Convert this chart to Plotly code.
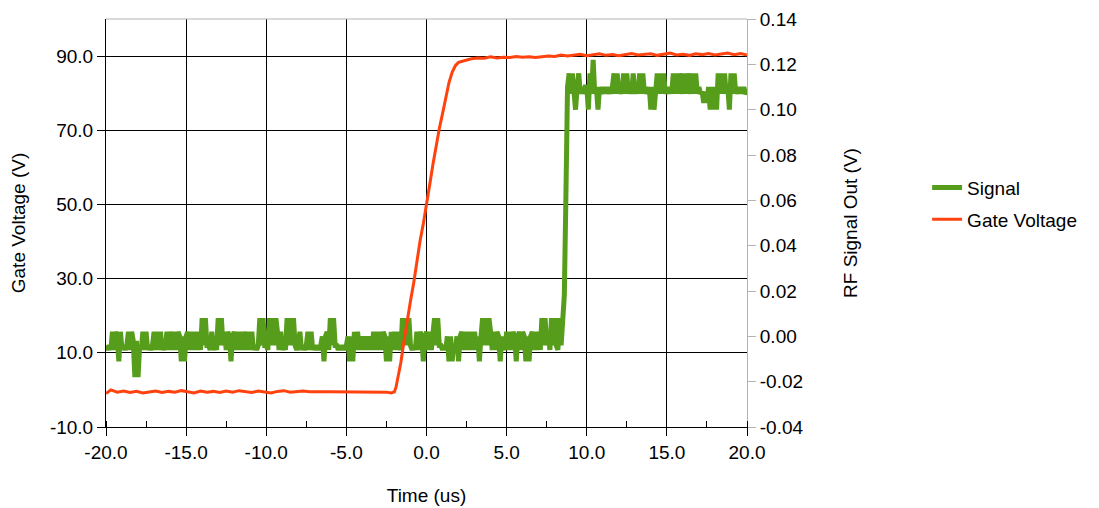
import plotly.graph_objects as go
import numpy as np

# ---- data -------------------------------------------------------------
# RF signal (V) sampled every 0.1 us from -20.0 to 20.0 us (values in mV)
signal_t = np.round(np.arange(-20.0, 20.0001, 0.1), 1)
signal_mv = [
    -4, -6, -4, -6, 2, -6, 2, 0, -11, 2, -6, -4, -6, -4, 2, -6, 2,
    -2, -18, -2, -18, -4, -6, 2, -6, 2, -6, -4, -6, -4,
    2, -6, 2, -6, 2, -6, -4, -6, 2, -6, 2, -4, -6, 2, -6, 2,
    0, -11, 0, -11, 0, 2, -6, 2, -6, 2, -6, 2, -4, -6, 8, -4, 8, -4,
    -4, -6, 2, -6, -4, -6, 8, -4, 8, -4, 2, -6, 2, 0, -11, 0,
    2, -6, 2, -6, 2, -6, 2, -4, -6, 2, -6, 2, -6, -4, -6, -4,
    8, -4, 8, -4, -4, -6, 8, -4, 8, -4, 8, 2, -6, 2, -6, -4, -6,
    8, -4, 8, -4, 8, -4, -6, -4, 2, -6, -4, -6, -4, 2, -6, 2, -6,
    -4, -6, -4, -6, -4, 0, -11, 0, 2, -6, 8, -4, 8, -4,
    -4, -6, -4, -6, -4, -6, -4, 0, -11, 0, -11, 2, -6, 2, -6,
    0, -6, 0, -6, 0, -6, 0, -6, 2, -6, 2, -6, 2, -6, 2,
    0, -11, 0, -11, 2, -6, 2, -6, 2, -4, -6, 8, -4, 8, -4, 8,
    -4, -6, -4, -6, 2, -6, 2, 0, -11, 0,
    2, -6, 2, -6, 2, 8, -4, 8, -4, -4, -6, -4, -6, 0, -11, 0, -11,
    -4, -6, 0, -11, 0, 2, -6, 2, -6, 2, -6, 2, -6, 2, -6,
    0, -11, 0, 8, -4, 8, -4, 8, 2, -6, 2, -6, 2, 0, -11, 0, -4, -6,
    2, -6, 2, -6, 2, 0, -11, 0, 2, -6, 2, 0, -11, 0, -11, 0,
    2, -6, 2, -6, 2, -6, 8, -4, 8, -4, 2, -6, 8, -4, 8, -4, -6, 8, -4, 8,
    18, 62, 110,
    116, 107, 116, 110, 100, 110, 116, 107, 110, 107, 110, 110, 100,
    116, 107, 122, 107, 110, 100,
    110, 107, 110, 107, 110, 107, 110, 107, 110,
    116, 107, 116, 107, 110, 107, 116, 107, 116, 107, 110, 107,
    116, 107, 110, 107, 116, 107, 116, 107, 110, 107,
    110, 100, 110, 100, 110, 116, 107, 116, 107, 116, 107,
    110, 107, 110, 107, 116, 107, 116, 107, 116, 110, 107,
    116, 107, 116, 110, 107, 116, 107, 116, 107, 110, 107,
    108, 103, 108, 103, 110, 100, 110, 100, 110, 100,
    116, 107, 116, 107, 116, 107, 110, 100, 116, 107, 116, 107,
    110, 107, 110, 107, 110, 107, 108,
]
signal_v = [v / 1000.0 for v in signal_mv]

# Gate voltage (V)
gate_t = [
    -20.0, -19.7, -19.3, -18.9, -18.5, -18.1, -17.7, -17.3, -16.9, -16.5,
    -16.1, -15.7, -15.3, -14.9, -14.5, -14.1, -13.7, -13.3, -12.9, -12.5,
    -12.1, -11.7, -11.3, -10.9, -10.5, -10.1, -9.7, -9.3, -8.9, -8.5,
    -8.1, -7.7, -7.3, -6.9, -6.5, -6.1, -5.7, -5.3, -4.9, -4.5,
    -4.1, -3.7, -3.3, -2.9, -2.5, -2.2, -2.0, -1.9, -1.8, -1.6,
    -1.4, -1.2, -1.0, -0.8, -0.6, -0.4, -0.2, 0.0, 0.2, 0.4,
    0.6, 0.8, 1.0, 1.2, 1.4, 1.6, 1.8, 2.0, 2.4, 2.8,
    3.2, 3.6, 4.0, 4.4, 4.8, 5.2, 5.6, 6.0, 6.4, 6.8,
    7.2, 7.6, 8.0, 8.4, 8.8, 9.2, 9.6, 10.0, 10.4, 10.8,
    11.2, 11.6, 12.0, 12.4, 12.8, 13.2, 13.6, 14.0, 14.4, 14.8,
    15.2, 15.6, 16.0, 16.4, 16.8, 17.2, 17.6, 18.0, 18.4, 18.8,
    19.2, 19.6, 20.0,
]
gate_v = [
    -1.0, 0.0, -0.6, -0.3, -0.7, -0.4, -0.8, -0.5, -0.3, -0.7,
    -0.4, -0.6, -0.2, -0.5, -0.8, -0.3, -0.6, -0.4, -0.7, -0.3,
    -0.6, -0.2, -0.5, -0.7, -0.3, -0.5, -0.8, -0.4, -0.2, -0.6,
    -0.5, -0.3, -0.5, -0.6, -0.5, -0.5, -0.5, -0.5, -0.5, -0.6,
    -0.5, -0.5, -0.5, -0.7, -0.6, -0.8, -0.5, 0.8, 3.0, 7.4,
    13.3, 19.0, 24.0, 28.8, 35.0, 40.2, 44.8, 49.6, 55.3, 60.8,
    66.2, 70.5, 74.5, 79.0, 82.8, 85.6, 87.4, 88.3, 88.8, 89.3,
    89.5, 89.4, 89.8, 89.5, 89.7, 89.6, 89.9, 89.7, 89.8, 89.6,
    89.8, 90.0, 89.9, 90.3, 90.0, 90.2, 90.5, 90.1, 90.3, 90.6,
    90.2, 90.4, 90.1, 90.5, 90.7, 90.3, 90.4, 90.6, 90.2, 90.5,
    90.8, 90.3, 90.5, 90.2, 90.6, 90.4, 90.7, 90.3, 90.6, 90.8,
    90.4, 90.7, 90.3,
]

# axis tick labels (plain hyphen minus, as in the reference)
x_ticks = [-20, -15, -10, -5, 0, 5, 10, 15, 20]
x_labels = ["-20.0", "-15.0", "-10.0", "-5.0", "0.0", "5.0", "10.0", "15.0", "20.0"]
gate_ticks = [-10, 10, 30, 50, 70, 90]
gate_labels = ["-10.0", "10.0", "30.0", "50.0", "70.0", "90.0"]
rf_ticks = [-0.04, -0.02, 0.0, 0.02, 0.04, 0.06, 0.08, 0.10, 0.12, 0.14]
rf_labels = ["-0.04", "-0.02", "0.00", "0.02", "0.04", "0.06", "0.08", "0.10", "0.12", "0.14"]

GREEN = "#579D1C"
ORANGE = "#FF420E"
FONT = "Liberation Sans, Arial, sans-serif"
FS = 19

fig = go.Figure()
fig.add_trace(go.Scatter(
    x=signal_t, y=signal_v, name="Signal", mode="lines",
    line=dict(color=GREEN, width=5), yaxis="y", legendgroup="a",
))
fig.add_trace(go.Scatter(
    x=gate_t, y=gate_v, name="Gate Voltage", mode="lines",
    line=dict(color=ORANGE, width=3), yaxis="y2", legendgroup="b",
))

fig.update_layout(
    width=1091, height=500,
    margin=dict(l=98, r=352, t=11, b=81, autoexpand=False),
    paper_bgcolor="white", plot_bgcolor="white",
    font=dict(family=FONT, size=FS, color="#000000"),
    xaxis=dict(
        range=[-20, 20], tickvals=x_ticks, ticktext=x_labels,
        showgrid=True, gridcolor="#000000", gridwidth=1, zeroline=False,
        showline=True, linecolor="#000000", linewidth=1,
        ticks="outside", ticklen=8, tickcolor="#000000",
        minor=dict(dtick=2.5, ticks="inside", ticklen=6, tickcolor="#000000", showgrid=False),
        title=dict(text="Time (us)", font=dict(size=FS), standoff=26),
    ),
    yaxis=dict(
        side="right", range=[-0.04, 0.14], tickvals=rf_ticks, ticktext=rf_labels,
        showgrid=False, zeroline=False,
        showline=True, linecolor="#b3b3b3", linewidth=1,
        ticks="outside", ticklen=8, tickcolor="#b3b3b3",
        title=dict(text="RF Signal Out (V)", font=dict(size=FS), standoff=41),
    ),
    yaxis2=dict(
        overlaying="y", side="left", range=[-10, 100],
        tickvals=gate_ticks, ticktext=gate_labels,
        showgrid=True, gridcolor="#000000", gridwidth=1, zeroline=False,
        showline=True, linecolor="#000000", linewidth=1,
        ticks="outside", ticklen=8, tickcolor="#000000",
        title=dict(text="Gate Voltage (V)", font=dict(size=FS), standoff=20),
    ),
    legend=dict(
        x=1.281, y=0.633, xanchor="left", yanchor="top",
        font=dict(size=FS), tracegroupgap=4, bgcolor="rgba(0,0,0,0)",
    ),
    shapes=[dict(type="line", xref="paper", yref="paper", x0=0, x1=1, y0=1, y1=1,
                 line=dict(color="#b3b3b3", width=1))],
)

fig.write_html("out.html")
